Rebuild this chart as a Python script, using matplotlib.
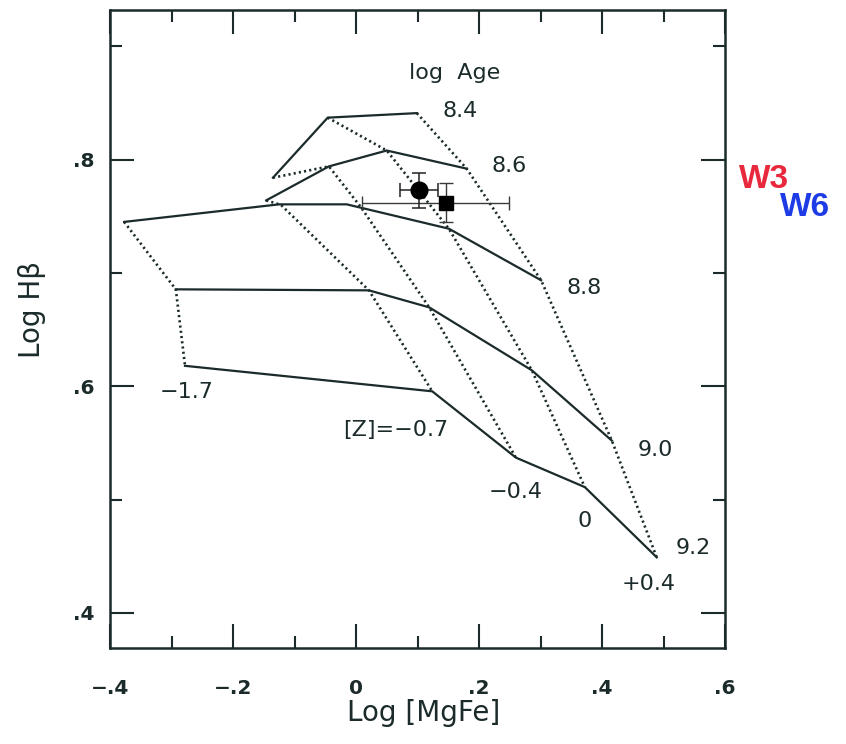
import matplotlib
matplotlib.use("Agg")
import matplotlib.pyplot as plt
from matplotlib.ticker import MultipleLocator

# isochrones (solid), one per log age
age_labels = ["8.4", "8.6", "8.8", "9.0", "9.2"]
age_84_mgfe = [-0.135, -0.046, 0.099]
age_84_hb = [0.784, 0.837, 0.841]
age_86_mgfe = [-0.146, -0.044, 0.050, 0.180]
age_86_hb = [0.764, 0.794, 0.808, 0.792]
age_88_mgfe = [-0.377, -0.125, -0.015, 0.151, 0.301]
age_88_hb = [0.745, 0.7605, 0.7605, 0.739, 0.6935]
age_90_mgfe = [-0.293, 0.021, 0.119, 0.286, 0.416]
age_90_hb = [0.6855, 0.6846, 0.6696, 0.614, 0.552]
age_92_mgfe = [-0.278, 0.124, 0.260, 0.372, 0.489]
age_92_hb = [0.618, 0.5955, 0.537, 0.511, 0.449]

# constant metallicity tracks (dotted)
z_labels = ["\u22121.7", "[Z]=\u22120.7", "\u22120.4", "0", "+0.4"]
z_m17_mgfe = [-0.377, -0.293, -0.278]
z_m17_hb = [0.745, 0.6855, 0.618]
z_m07_mgfe = [-0.146, -0.122, 0.021, 0.124]
z_m07_hb = [0.764, 0.760, 0.6846, 0.5955]
z_m04_mgfe = [-0.135, -0.044, 0.008, 0.119, 0.260]
z_m04_hb = [0.784, 0.794, 0.758, 0.6696, 0.537]
z_00_mgfe = [-0.046, 0.050, 0.151, 0.286, 0.372]
z_00_hb = [0.837, 0.808, 0.739, 0.614, 0.511]
z_p04_mgfe = [0.099, 0.180, 0.301, 0.416, 0.489]
z_p04_hb = [0.841, 0.792, 0.6935, 0.552, 0.449]

# the two clusters
w3_mgfe, w3_hb = 0.102, 0.773
w3_xerr, w3_yerr = 0.031, 0.0155
w6_mgfe, w6_hb = 0.146, 0.762
w6_xerr = [[0.136], [0.103]]
w6_yerr = 0.017

ink = "#1b2a2a"
plt.rcParams["font.family"] = "DejaVu Sans"

fig = plt.figure(figsize=(8.46, 7.44), dpi=100)
ax = fig.add_axes([110 / 846, 1 - 648 / 744, 615 / 846, 638 / 744])

isochrones = [(age_84_mgfe, age_84_hb), (age_86_mgfe, age_86_hb),
              (age_88_mgfe, age_88_hb), (age_90_mgfe, age_90_hb),
              (age_92_mgfe, age_92_hb)]
for xs, ys in isochrones:
    ax.plot(xs, ys, color=ink, lw=1.6, solid_joinstyle="miter")

tracks = [(z_m17_mgfe, z_m17_hb), (z_m07_mgfe, z_m07_hb),
          (z_m04_mgfe, z_m04_hb), (z_00_mgfe, z_00_hb),
          (z_p04_mgfe, z_p04_hb)]
for xs, ys in tracks:
    ax.plot(xs, ys, color=ink, lw=1.9, linestyle=(0, (0.8, 1.2)))

ax.errorbar(w6_mgfe, w6_hb, xerr=w6_xerr, yerr=w6_yerr, fmt="s", ms=10,
            color="black", ecolor="#3a3a3a", elinewidth=1.0, capsize=5,
            capthick=1.0)
ax.errorbar(w3_mgfe, w3_hb, xerr=w3_xerr, yerr=w3_yerr, fmt="o", ms=12,
            color="black", ecolor="#222", elinewidth=1.1, capsize=5,
            capthick=1.1)

# age labels at the right end of each isochrone
age_pos = [(0.169, 0.8426), (0.249, 0.794), (0.371, 0.6864),
           (0.486, 0.5434), (0.548, 0.4569)]
for txt, (tx, ty) in zip(age_labels, age_pos):
    ax.text(tx, ty, txt, fontsize=16, ha="center", va="center", color=ink)

z_pos = [(-0.276, 0.5946), (0.065, 0.561), (0.260, 0.5064),
         (0.372, 0.4807), (0.476, 0.4251)]
for txt, (tx, ty) in zip(z_labels, z_pos):
    ax.text(tx, ty, txt, fontsize=16, ha="center", va="center", color=ink)

ax.text(0.161, 0.876, "log  Age", fontsize=16, ha="center", va="center",
        color=ink)

ax.set_xlim(-0.4, 0.6)
ax.set_ylim(0.369, 0.932)
ax.xaxis.set_major_locator(MultipleLocator(0.2))
ax.xaxis.set_minor_locator(MultipleLocator(0.1))
ax.yaxis.set_major_locator(MultipleLocator(0.2))
ax.yaxis.set_minor_locator(MultipleLocator(0.1))


def short_fmt(v, pos):
    if abs(v) < 1e-9:
        return "0"
    s = "%.1f" % v
    s = s.replace("0.", ".")
    return s.replace("-", "\u2212")


ax.xaxis.set_major_formatter(short_fmt)
ax.yaxis.set_major_formatter(short_fmt)
ax.tick_params(which="both", direction="in", top=True, right=True,
               color=ink, width=1.5)
ax.tick_params(which="major", length=17)
ax.tick_params(which="minor", length=8.5)
ax.tick_params(axis="x", which="major", pad=22)
ax.tick_params(axis="y", which="major", pad=11)
for lab in ax.get_xticklabels() + ax.get_yticklabels():
    lab.set_fontsize(14.5)
    lab.set_fontweight("bold")
    lab.set_color(ink)
for sp in ax.spines.values():
    sp.set_linewidth(1.8)
    sp.set_color(ink)

ax.set_xlabel("Log [MgFe]", fontsize=20, color=ink)
ax.set_ylabel("Log H\u03b2", fontsize=20, color=ink)
ax.xaxis.set_label_coords(0.51, -0.08)
ax.yaxis.set_label_coords(-0.104, 0.53)

fig.text(764 / 846, 1 - 180 / 744, "W3", color="#e8283c", fontsize=24,
         fontweight="bold", ha="center", va="center",
         family="Liberation Sans")
fig.text(805 / 846, 1 - 208 / 744, "W6", color="#1e3ce6", fontsize=24,
         fontweight="bold", ha="center", va="center",
         family="Liberation Sans")

fig.savefig("out.png", dpi=100)
